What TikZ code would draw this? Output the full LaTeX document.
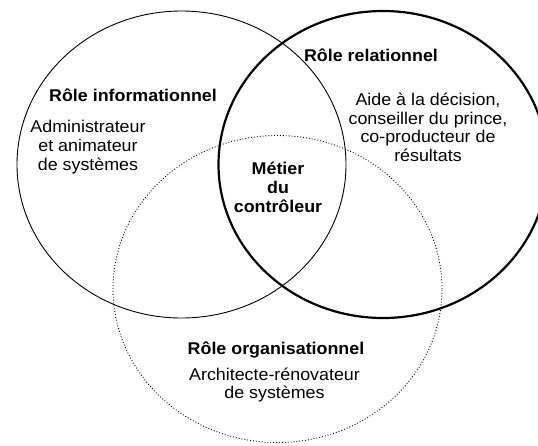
\documentclass[tikz,border=0pt]{standalone}
\usepackage{fontspec}
\setmainfont[FakeStretch=1.05]{Liberation Sans}
\usetikzlibrary{shapes.geometric}
\begin{document}
\begin{tikzpicture}[x=1pt,y=-1pt,
  role/.style={ellipse,inner sep=0pt,outer sep=0pt,minimum width=329pt,minimum height=307pt},
  lbl/.style={align=center,inner sep=0pt,font=\fontsize{17}{18.6}\selectfont},
  blbl/.style={lbl,font=\fontsize{17}{19}\selectfont\bfseries}]
\useasboundingbox (0,0) rectangle (538,445);
\clip (0,0) rectangle (538,445);
\node[role,draw,line width=0.9pt] (info) at (181.5,164.5) {};
\node[role,draw,line width=2.2pt] (rel) at (383,164.5) {};
\node[role,draw,line width=0.9pt,dash pattern=on 0.9pt off 2pt] (org) at (277.5,289) {};
% texts
\node[blbl] (tinfo) at (133,95) {Rôle informationnel};
\node[lbl] (dinfo) at (88,147) {Administrateur\\et animateur\\de systèmes};
\node[blbl] (trel) at (371,55) {Rôle relationnel};
\node[lbl] (drel) at (428,127.5) {Aide à la décision,\\conseiller du prince,\\co-producteur de\\résultats};
\node[blbl] (metier) at (278,187) {Métier\\du\\contrôleur};
\node[blbl] (torg) at (276,350) {Rôle organisationnel};
\node[lbl] (dorg) at (274.5,385) {Architecte-rénovateur\\de systèmes};
\end{tikzpicture}
\end{document}
